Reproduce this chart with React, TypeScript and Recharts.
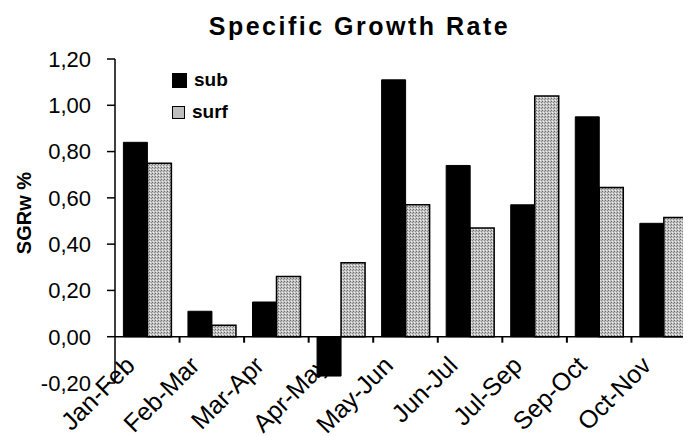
import React from 'react';
import { BarChart, Bar, XAxis, YAxis, ReferenceLine } from 'recharts';

const categories = ['Jan-Feb', 'Feb-Mar', 'Mar-Apr', 'Apr-May', 'May-Jun', 'Jun-Jul', 'Jul-Sep', 'Sep-Oct', 'Oct-Nov'];
const subValues = [0.84, 0.11, 0.15, -0.17, 1.11, 0.74, 0.57, 0.95, 0.49];
const surfValues = [0.75, 0.05, 0.26, 0.32, 0.57, 0.47, 1.04, 0.645, 0.515];
const yTicks = [-0.2, 0, 0.2, 0.4, 0.6, 0.8, 1.0, 1.2];
const seriesNames = ['sub', 'surf'];
const titleText = 'Specific Growth Rate';
const yLabelText = 'SGRw %';

const FONT = 'Arial, "Liberation Sans", sans-serif';
const Y_MIN = -0.2;
const Y_MAX = 1.2;
const CHART_W = 700;
const CHART_H = 429;
const MARGIN_TOP = 51;
const MARGIN_RIGHT = 12;
const YAXIS_W = 107;
const XAXIS_H = 54;
const PLOT_H = CHART_H - MARGIN_TOP - XAXIS_H;
const BAND = (CHART_W - YAXIS_W - MARGIN_RIGHT) / categories.length;

const data = categories.map((c, i) => ({ cat: c, sub: subValues[i], surf: surfValues[i] }));

const fmt = (v: number) => v.toFixed(2).replace('.', ',');

const XTick = (props: any) => {
  const { x, y, payload } = props;
  const idx = categories.indexOf(payload.value);
  const half = payload && typeof payload.offset === 'number' && payload.offset > 0 ? payload.offset : BAND / 2;
  const zeroY = y - (PLOT_H * (0 - Y_MIN)) / (Y_MAX - Y_MIN);
  return (
    <g>
      {idx > 0 && (
        <line x1={x - half} x2={x - half} y1={zeroY} y2={zeroY + 6} stroke="#000" strokeWidth={2} />
      )}
      <g transform={`translate(${x - 11},${y - 16})`}>
        <text textAnchor="end" transform="rotate(-45)" fontSize={25} fontFamily={FONT} fill="#000">
          {payload.value}
        </text>
      </g>
    </g>
  );
};

const YLabel = (props: any) => {
  const vb = props.viewBox || { x: 0, y: 0, width: 0, height: 0 };
  const cx = 16;
  const cy = vb.y + vb.height / 2 - 8;
  return (
    <text
      x={cx}
      y={cy}
      transform={`rotate(-90, ${cx}, ${cy})`}
      textAnchor="middle"
      dominantBaseline="central"
      fontSize={20}
      fontWeight="bold"
      fontFamily={FONT}
      fill="#000"
    >
      {yLabelText}
    </text>
  );
};

export default function App() {
  return (
    <div style={{ position: 'relative', width: 683, height: 429, overflow: 'hidden', background: '#fff' }}>
      <div
        style={{
          position: 'absolute',
          left: 0,
          width: 703,
          top: 6,
          textAlign: 'center',
          fontFamily: FONT,
          fontWeight: 'bold',
          fontSize: 25,
          letterSpacing: 2.5,
          lineHeight: '25px',
          color: '#000',
          zIndex: 2,
        }}
      >
        {titleText}
      </div>
      <div style={{ position: 'absolute', left: 164, top: 65, zIndex: 2, fontFamily: FONT, fontWeight: 'bold', fontSize: 19, color: '#000' }}>
        <div style={{ display: 'flex', alignItems: 'center', height: 14 }}>
          <div style={{ width: 13, height: 13, background: '#000', border: '0.5px solid #000' }} />
          <span style={{ marginLeft: 7 }}>{seriesNames[0]}</span>
        </div>
        <div style={{ display: 'flex', alignItems: 'center', height: 14, marginTop: 18 }}>
          <div style={{ width: 11, height: 11, background: '#bdbdbd', border: '1.5px solid #000' }} />
          <span style={{ marginLeft: 7 }}>{seriesNames[1]}</span>
        </div>
      </div>
      <BarChart
        width={CHART_W}
        height={CHART_H}
        data={data}
        margin={{ top: MARGIN_TOP, right: MARGIN_RIGHT, left: 0, bottom: 0 }}
        barCategoryGap="13%"
        barGap={0}
      >
        <defs>
          <pattern id="stipple" width="3" height="3" patternUnits="userSpaceOnUse">
            <rect width="3" height="3" fill="#c2c2c2" />
            <rect x="0" y="0" width="1" height="1" fill="#6a6a6a" />
            <rect x="2" y="1" width="1" height="1" fill="#8a8a8a" />
            <rect x="1" y="2" width="1" height="1" fill="#f2f2f2" />
          </pattern>
        </defs>
        <XAxis
          dataKey="cat"
          axisLine={false}
          tickLine={false}
          tickSize={0}
          tickMargin={0}
          height={XAXIS_H}
          interval={0}
          tick={<XTick />}
        />
        <YAxis
          width={YAXIS_W}
          domain={[Y_MIN, Y_MAX]}
          ticks={yTicks}
          tickFormatter={fmt}
          axisLine={{ stroke: '#000', strokeWidth: 1.5 }}
          tickLine={{ stroke: '#000', strokeWidth: 1.5 }}
          tickSize={8}
          tickMargin={16}
          tick={{ fontSize: 22, fontFamily: FONT, fill: '#000' }}
          allowDataOverflow
          label={<YLabel />}
        />
        <Bar dataKey="sub" fill="#000" stroke="#000" strokeWidth={1} isAnimationActive={false} />
        <Bar dataKey="surf" fill="url(#stipple)" stroke="#000" strokeWidth={1.5} isAnimationActive={false} />
        <ReferenceLine y={0} stroke="#000" strokeWidth={1.5} />
      </BarChart>
    </div>
  );
}
